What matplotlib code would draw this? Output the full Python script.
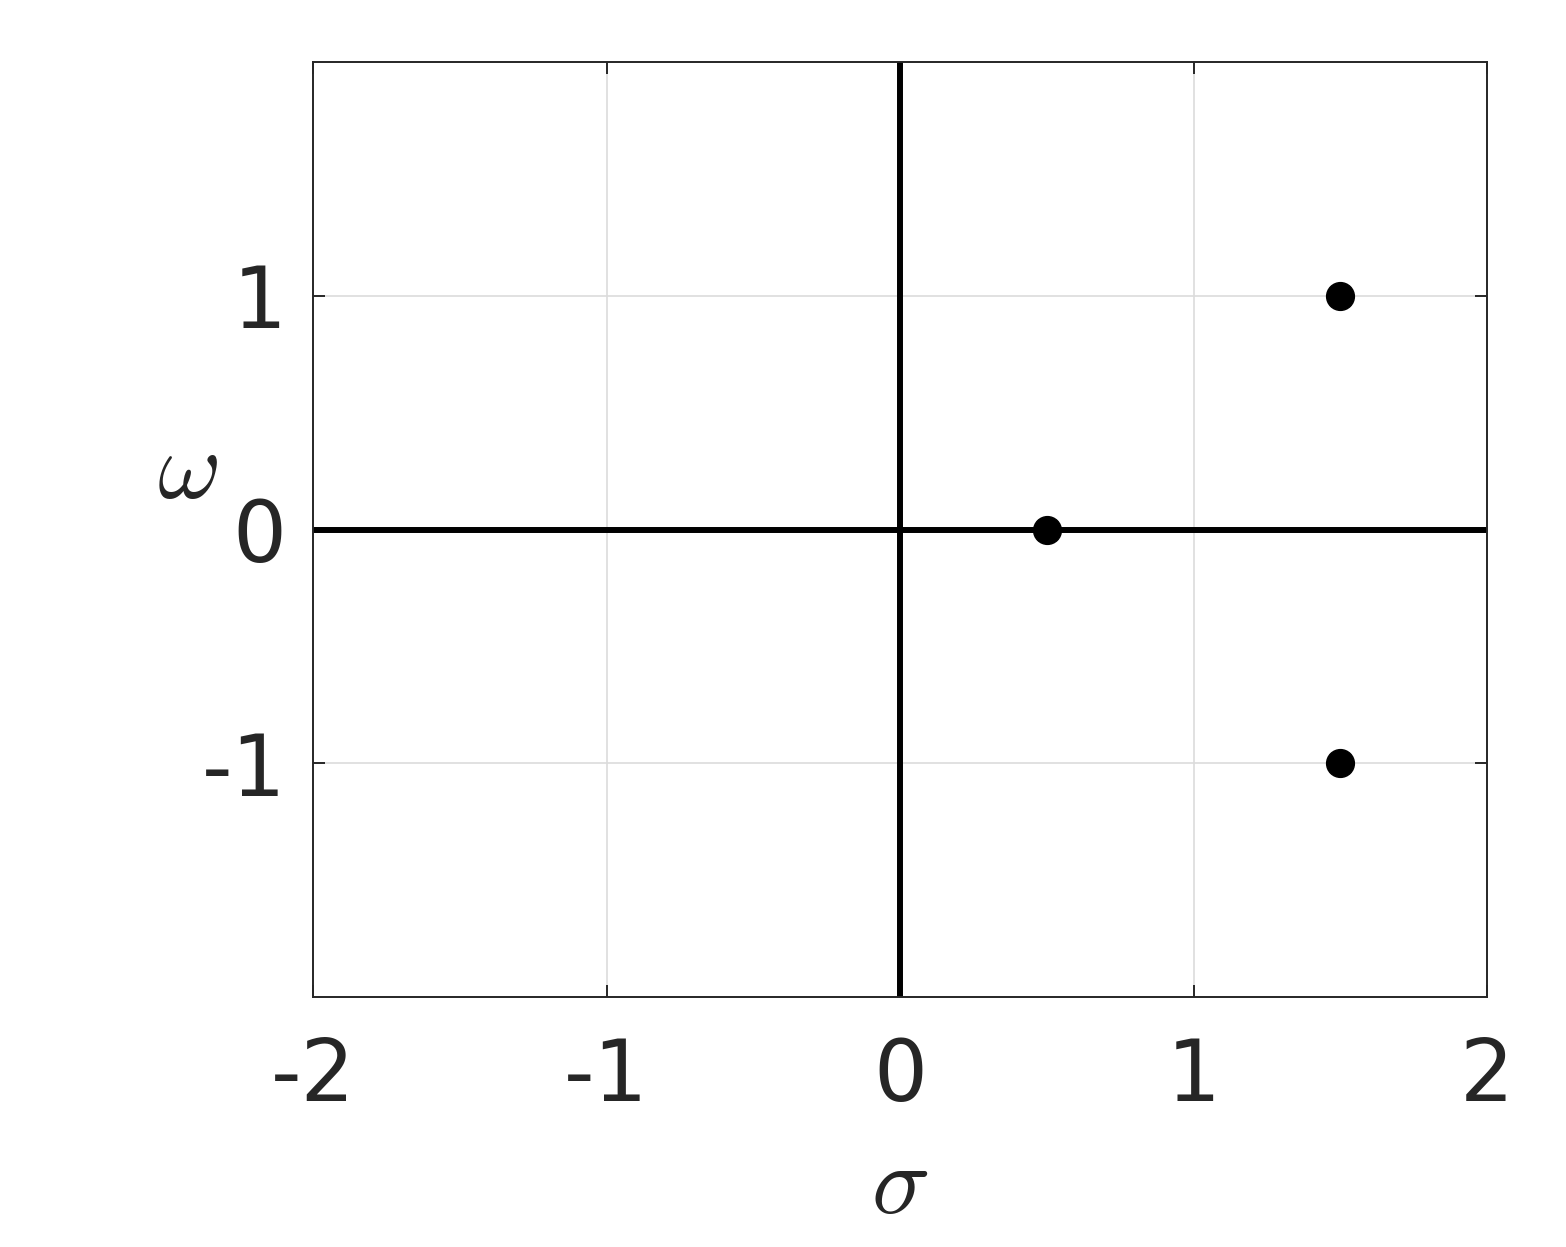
import matplotlib
matplotlib.use("Agg")
import matplotlib.pyplot as plt

# Data
pole_sigma = [0.5, 1.5, 1.5]
pole_omega = [0.0, 1.0, -1.0]
x_ticks = [-2, -1, 0, 1, 2]
x_ticklabels = ["-2", "-1", "0", "1", "2"]
y_ticks = [-1, 0, 1]
y_ticklabels = ["-1", "0", "1"]
x_limits = [-2, 2]
y_limits = [-2, 2]

plt.rcParams['mathtext.fontset'] = 'cm'
plt.rcParams['font.family'] = ['DejaVu Sans']

W, H = 1566, 1247
fig = plt.figure(figsize=(W / 100, H / 100), dpi=100)
ax = fig.add_axes([313 / W, 1 - 997 / H, (1487 - 313) / W, (997 - 62) / H])

ax.set_xlim(x_limits)
ax.set_ylim(y_limits)
ax.set_xticks(x_ticks)
ax.set_xticklabels(x_ticklabels)
ax.set_yticks(y_ticks)
ax.set_yticklabels(y_ticklabels)

ax.grid(True, color='#dcdcdc', linewidth=1.2, zorder=0)
ax.set_axisbelow(True)

ax.axhline(0, color='black', linewidth=4.3, zorder=2)
ax.axvline(0, color='black', linewidth=4.3, zorder=2)

ax.plot(pole_sigma, pole_omega, 'o', color='black', markersize=20, zorder=3, linestyle='none')

for s in ax.spines.values():
    s.set_color('#262626')
    s.set_linewidth(1.4)

ax.tick_params(axis='both', direction='in', length=8.5, width=1.4, color='#262626',
               labelsize=61, labelcolor='#262626', top=True, right=True)
ax.tick_params(axis='x', pad=28)
ax.tick_params(axis='y', pad=19)

ax.set_xlabel(r'$\sigma$', fontsize=70, color='#262626')
ax.set_ylabel(r'$\omega$', fontsize=70, color='#262626', rotation=0)
ax.xaxis.set_label_coords(0.5, -0.203)
ax.yaxis.set_label_coords(-0.107, 0.5615)
ax.xaxis.label.set_va('center')
ax.xaxis.label.set_ha('center')
ax.yaxis.label.set_va('center')
ax.yaxis.label.set_ha('center')

fig.savefig('out.png', dpi=100, facecolor='white')
